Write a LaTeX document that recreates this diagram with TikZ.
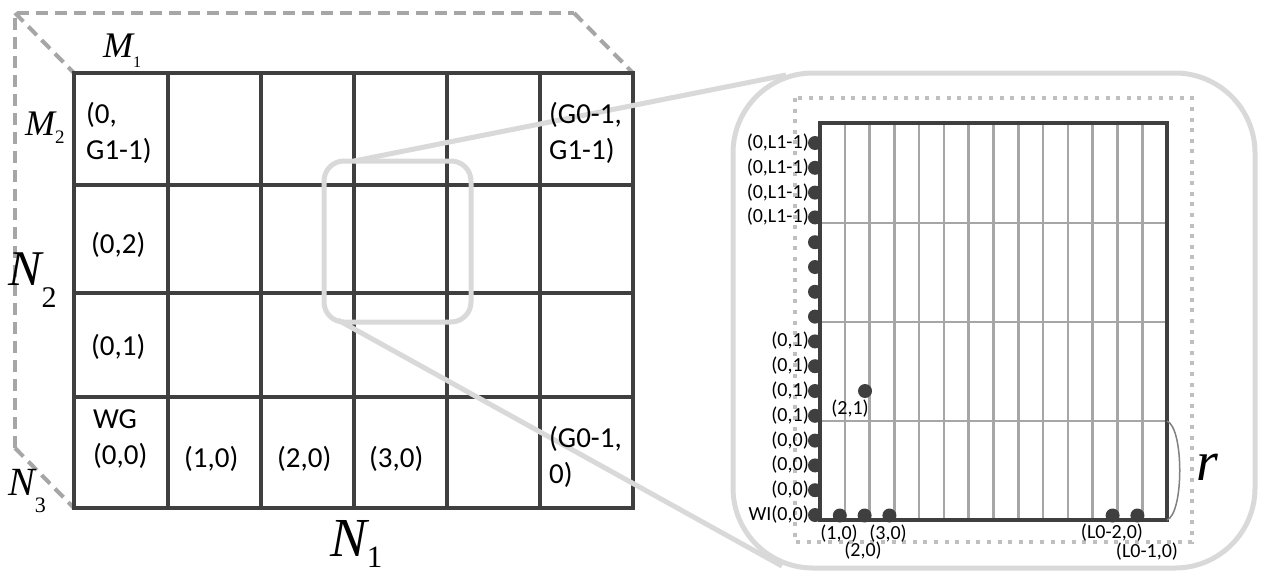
\documentclass[tikz,border=0pt]{standalone}
\usepackage{fontspec}
\setmainfont{Carlito}
\newfontfamily\tms{Liberation Serif}
\newfontfamily\tmsi{Liberation Serif Italic}
\definecolor{gridc}{HTML}{3F3F3F}
\definecolor{dashc}{HTML}{A6A6A6}
\definecolor{zoomc}{HTML}{D9D9D9}
\definecolor{dotrc}{HTML}{BFBFBF}
\definecolor{finec}{HTML}{A6A6A6}
\definecolor{bracec}{HTML}{808080}
\begin{document}
\begin{tikzpicture}[x=1pt,y=-1pt,
  gline/.style={draw=gridc, line width=4pt},
  backedge/.style={draw=dashc, line width=4pt, dash pattern=on 12pt off 7pt},
  zoomline/.style={draw=zoomc, line width=5pt},
  fine/.style={draw=finec, line width=2.6pt},
  dotline/.style={draw=dotrc, line width=4pt, dash pattern=on 4pt off 6.6pt},
  dot/.style={circle, fill=gridc, minimum size=14pt, inner sep=0pt},
  cell/.style={inner sep=0pt, anchor=base west, font=\fontsize{29}{36}\selectfont},
  small/.style={inner sep=0pt, font=\fontsize{20}{22}\selectfont},
  axis/.style={inner sep=0pt, anchor=base west}]
\useasboundingbox (0,0) rectangle (1265,573);
% ---------- back edges of the block ----------
\coordinate (bTL) at (15,13);
\coordinate (bTR) at (574,13);
\coordinate (bBL) at (15,448);
\coordinate (fTL) at (74,73);
\coordinate (fTR) at (633,73);
\coordinate (fBL) at (74,508);
\draw[backedge] (bBL) -- (bTL) -- (bTR);
\draw[backedge] (bTL) -- (fTL);
\draw[backedge] (bTR) -- (fTR);
\draw[backedge] (bBL) -- (fBL);
% ---------- front grid ----------
\foreach \x in {167.5,261,354,447,540} \draw[gline] (\x,73) -- (\x,508);
\foreach \y in {185,293,397} \draw[gline] (74,\y) -- (633,\y);
\draw[gline] (74,73) rectangle (633,508);
% ---------- zoom box and connectors ----------
\node[zoomline, rounded corners=20pt, minimum width=147pt, minimum height=161pt, inner sep=0pt] (zs) at (397.5,241.5) {};
\node[zoomline, rounded corners=80pt, minimum width=522pt, minimum height=495pt, inner sep=0pt] (zb) at (994,320.5) {};
\coordinate (c1a) at (354,161);
\coordinate (c1b) at (786,75);
\coordinate (c2a) at (338,320);
\coordinate (c2b) at (782,566);
\draw[zoomline] (c1a) -- (c1b);
\draw[zoomline] (c2a) -- (c2b);
% ---------- dotted frame ----------
\draw[dotline] (795,98) rectangle (1192,542);
% ---------- fine grid ----------
\foreach \k in {1,...,13} \draw[fine] (820+24.79*\k,123) -- (820+24.79*\k,520);
\foreach \y in {223,322,421} \draw[fine] (820,\y) -- (1167,\y);
\draw[gridc, line width=4pt] (820,123) rectangle (1167,520);
\coordinate (ra) at (1167,421);
\coordinate (rb) at (1167,520);
\draw[bracec, line width=1.5pt] (ra) .. controls (1184,428) and (1184,513) .. (rb);
% ---------- work items ----------
\foreach \k in {0,...,15} \node[dot] (d\k) at (815,143+24.8*\k) {};
\foreach \k in {1,2,3,12,13} \node[dot] (b\k) at (815+24.8*\k,515.5) {};
\node[dot] (d21) at (865,391) {};
\foreach \k in {0,...,3} \node[small, anchor=base east] (ll\k) at (809,148.5+24.8*\k) {(0,L1-1)};
\foreach \k in {8,...,11} \node[small, anchor=base east] (ll\k) at (809,148.5+24.8*\k) {(0,1)};
\foreach \k in {12,...,14} \node[small, anchor=base east] (ll\k) at (809,148.5+24.8*\k) {(0,0)};
\node[small, anchor=base east] (ll15) at (809,520.5) {WI(0,0)};
\node[small, anchor=base] (lb1) at (839,539) {(1,0)};
\node[small, anchor=base] (lb2) at (863,556) {(2,0)};
\node[small, anchor=base] (lb3) at (888,539) {(3,0)};
\node[small, anchor=base] (lb12) at (1112,538) {(L0-2,0)};
\node[small, anchor=base] (lb13) at (1147,557) {(L0-1,0)};
\node[small, anchor=base] (l21) at (850,414) {(2,1)};
% ---------- cell labels ----------
\node[cell] (c0t) at (86,123) {\begin{tabular}[t]{@{}l@{}}(0,\\G1-1)\end{tabular}};
\node[cell] (cGt) at (549,123) {\begin{tabular}[t]{@{}l@{}}(G0-1,\\G1-1)\end{tabular}};
\node[cell] (c02) at (91,253) {(0,2)};
\node[cell] (c01) at (91,355) {(0,1)};
\node[cell] (c00) at (93,428) {\begin{tabular}[t]{@{}l@{}}WG\\(0,0)\end{tabular}};
\node[cell] (c10) at (184,467) {(1,0)};
\node[cell] (c20) at (277,467) {(2,0)};
\node[cell] (c30) at (369,467) {(3,0)};
\node[cell] (cG0) at (549,447) {\begin{tabular}[t]{@{}l@{}}(G0-1,\\0)\end{tabular}};
% ---------- axis labels ----------
\node[axis] (m1) at (103,57) {\tmsi\fontsize{36}{36}\selectfont M\raisebox{-10pt}{\tms\fontsize{16}{16}\selectfont 1}};
\node[axis] (m2) at (25,135) {\tmsi\fontsize{36}{36}\selectfont M\raisebox{-8pt}{\tms\fontsize{19}{19}\selectfont 2}};
\node[axis] (n2) at (8,285) {\tmsi\fontsize{50}{50}\selectfont N\raisebox{-22pt}{\tms\fontsize{30}{30}\selectfont 2}};
\node[axis] (n3) at (8,495) {\tmsi\fontsize{40}{40}\selectfont N\raisebox{-17pt}{\tms\fontsize{22}{22}\selectfont 3}};
\node[axis] (n1) at (330,556) {\tmsi\fontsize{55}{55}\selectfont N\raisebox{-11pt}{\tms\fontsize{31}{31}\selectfont 1}};
\node[axis] (r) at (1196,480) {\tmsi\fontsize{56}{56}\selectfont r};
\end{tikzpicture}
\end{document}
